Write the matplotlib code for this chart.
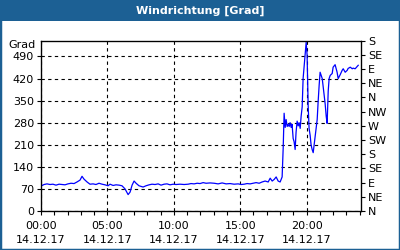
import numpy as np
import matplotlib.pyplot as plt
from matplotlib.patches import Rectangle

# hours since 00:00 on 14.12.17 and wind direction in degrees
hours = [0.0, 0.23, 0.45, 0.68, 0.9, 1.13, 1.36, 1.58, 1.81, 2.03, 2.26, 2.49, 2.71, 2.94,
         3.09, 3.24, 3.47, 3.69, 3.92, 4.14, 4.37, 4.6, 4.82, 5.05, 5.2, 5.43, 5.65, 5.88,
         6.1, 6.33, 6.56, 6.71, 6.86, 7.01, 7.16, 7.38, 7.46, 7.69, 7.91, 8.14, 8.36, 8.59,
         8.82, 9.04, 9.27, 9.49, 9.72, 9.95, 10.17, 10.47, 10.78, 11.08, 11.3, 11.53, 11.76,
         11.98, 12.21, 12.43, 12.74, 13.04, 13.34, 13.64, 13.94, 14.24, 14.54, 14.85, 15.07,
         15.3, 15.52, 15.75, 15.98, 16.2, 16.43, 16.65, 16.88, 17.11, 17.26, 17.41, 17.56,
         17.71, 17.86, 18.01, 18.16, 18.24, 18.31, 18.39, 18.46, 18.54, 18.61, 18.69, 18.76,
         18.84, 18.91, 18.99, 19.06, 19.14, 19.21, 19.29, 19.37, 19.44, 19.52, 19.59, 19.67,
         19.74, 19.82, 19.89, 19.97, 20.04, 20.12, 20.19, 20.27, 20.34, 20.42, 20.5, 20.57,
         20.65, 20.72, 20.8, 20.87, 20.95, 21.02, 21.1, 21.18, 21.25, 21.33, 21.4, 21.48,
         21.55, 21.63, 21.7, 21.78, 21.93, 22.0, 22.15, 22.3, 22.38, 22.53, 22.68, 22.76,
         22.91, 23.06, 23.13, 23.29, 23.44, 23.51, 23.66, 23.81, 23.89]
grad = [79, 84, 86, 84, 85, 82, 85, 84, 83, 86, 88, 87, 92, 98,
        110, 101, 92, 85, 86, 84, 88, 85, 83, 80, 85, 81, 83, 82,
        80, 70, 52, 60, 82, 95, 88, 80, 79, 76, 80, 83, 85, 84,
        86, 82, 85, 86, 83, 85, 84, 85, 84, 85, 87, 86, 88,
        87, 90, 88, 89, 88, 86, 89, 86, 87, 85, 86, 84,
        85, 87, 86, 88, 90, 88, 92, 95, 92, 104, 95, 100,
        108, 95, 92, 108, 200, 310, 265, 290, 268, 275, 268, 280,
        265, 275, 230, 220, 195, 250, 285, 270, 280, 262, 300, 330,
        420, 460, 493, 535, 495, 335, 262, 240, 210, 195, 185, 210,
        240, 265, 290, 345, 400, 440, 430, 420, 395, 367, 340, 300,
        278, 380, 420, 430, 436, 456, 464, 440, 420, 432, 446, 451,
        440, 446, 452, 456, 451, 453, 451, 458, 462]

left_ticks = [0, 70, 140, 210, 280, 350, 420, 490]
right_ticks = [0, 45, 90, 135, 180, 225, 270, 315, 360, 405, 450, 495, 540]
right_labels = ['N', 'NE', 'E', 'SE', 'S', 'SW', 'W', 'NW', 'N', 'NE', 'E', 'SE', 'S']
x_major = [0, 5, 10, 15, 20]
x_labels = ['00:00\n14.12.17', '05:00\n14.12.17', '10:00\n14.12.17',
            '15:00\n14.12.17', '20:00\n14.12.17']

BLUE = '#1c6094'
plt.rcParams['font.family'] = 'DejaVu Sans'
plt.rcParams['font.size'] = 8

fig = plt.figure(figsize=(4, 2.5), dpi=100)
fig.patch.set_facecolor('white')
# frame and title bar
fig.patches.append(Rectangle((0, 0), 1, 1, transform=fig.transFigure,
                             fill=False, edgecolor=BLUE, linewidth=2.5))
fig.patches.append(Rectangle((0, 1 - 20.5 / 250), 1, 20.5 / 250, transform=fig.transFigure,
                             facecolor=BLUE, edgecolor='none'))
fig.text(0.5, 1 - 10.5 / 250, 'Windrichtung [Grad]', color='white', fontweight='bold',
         ha='center', va='center', fontsize=8)

ax = fig.add_axes([41 / 400, 1 - 211 / 250, 320 / 400, 170.3 / 250])
ax.plot(hours, grad, color='#0000ff', linewidth=0.9)
ax.set_xlim(0, 24.1)
ax.set_ylim(0, 540)

ax.set_yticks(left_ticks)
ax.set_xticks(x_major)
ax.set_xticklabels(x_labels, linespacing=1.5)
ax.set_xticks(np.arange(0, 25, 1), minor=True)
ax.tick_params(axis='x', which='both', length=3, width=0.8, pad=4, direction='out')
ax.tick_params(axis='y', length=3, width=0.8, pad=2)
ax.grid(True, color='black', linestyle=(0, (3, 3)), linewidth=0.8)
for s in ax.spines.values():
    s.set_linewidth(0.9)

ax2 = ax.twinx()
ax2.set_ylim(0, 540)
ax2.set_yticks(right_ticks)
ax2.set_yticklabels(right_labels)
ax2.tick_params(axis='y', length=3, width=0.8, pad=2)

fig.text(36 / 400, 1 - 45 / 250, 'Grad', ha='right', va='center')

fig.savefig('out.png', dpi=100)
